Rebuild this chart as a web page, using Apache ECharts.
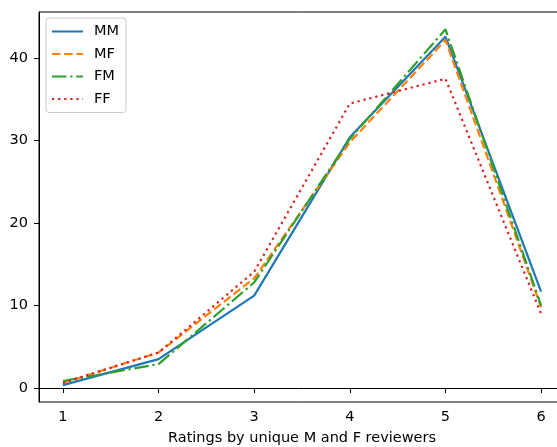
<!DOCTYPE html>
<html>
<head>
<meta charset="utf-8">
<script src="https://cdn.jsdelivr.net/npm/echarts@6/dist/echarts.min.js"></script>
<style>
  html, body { margin: 0; padding: 0; background: #fff; }
  #main { width: 557px; height: 447px; }
</style>
</head>
<body>
<div id="main"></div>
<script>
var ratings = [1, 2, 3, 4, 5, 6];
var mm = [0.35, 3.5, 11.2, 30.4, 42.6, 11.7];
var mf = [0.6, 4.3, 13.3, 29.8, 42.2, 9.8];
var fm = [0.85, 2.9, 12.8, 30.2, 43.5, 10.0];
var ff = [0.6, 4.3, 14.1, 34.5, 37.5, 9.0];
var xTicks = [1, 2, 3, 4, 5, 6];
var yTicks = [0, 10, 20, 30, 40];

function pairs(vals) {
  return ratings.map(function (r, i) { return [r, vals[i]]; });
}

var myChart = echarts.init(document.getElementById('main'));
var font = 'DejaVu Sans';

function line(name, vals, color, type) {
  return {
    name: name,
    type: 'line',
    symbol: 'none',
    data: pairs(vals),
    lineStyle: { color: color, width: 2.2, type: type },
    itemStyle: { color: color },
    emphasis: { disabled: true },
    animation: false
  };
}

var option = {
  backgroundColor: '#fff',
  grid: {
    left: 39, top: 12, width: 526, height: 390,
    outerBoundsMode: 'none',
    show: true, borderColor: '#000', borderWidth: 1
  },
  legend: {
    left: 46, top: 18,
    orient: 'vertical',
    padding: [6, 7, 6, 5],
    itemWidth: 31, itemHeight: 14, itemGap: 7.5,
    itemStyle: { opacity: 0 },
    backgroundColor: 'rgba(255,255,255,0.8)',
    borderColor: '#cccccc', borderWidth: 1, borderRadius: 3,
    textStyle: { fontFamily: font, fontSize: 14.5, color: '#000', padding: [0, 0, 0, 6] },
    data: ['MM', 'MF', 'FM', 'FF']
  },
  xAxis: {
    type: 'value',
    min: 0.75, max: 6.25,
    name: 'Ratings by unique M and F reviewers',
    nameLocation: 'middle',
    nameGap: 29,
    nameTextStyle: { fontFamily: font, fontSize: 14.5, color: '#000' },
    axisLine: { show: true, lineStyle: { color: '#000', width: 1 } },
    axisTick: { show: true, length: 5, lineStyle: { color: '#000' }, customValues: xTicks },
    axisLabel: { fontFamily: font, fontSize: 14.5, color: '#000', margin: 8, customValues: xTicks },
    splitLine: { show: false }
  },
  yAxis: {
    type: 'value',
    min: -1.7, max: 45.6,
    axisLine: { show: true, lineStyle: { color: '#000', width: 1 } },
    axisTick: { show: true, length: 5, lineStyle: { color: '#000' }, customValues: yTicks },
    axisLabel: { fontFamily: font, fontSize: 14.5, color: '#000', margin: 11, customValues: yTicks },
    splitLine: { show: false }
  },
  series: [
    line('MM', mm, '#1f77b4', 'solid'),
    line('MF', mf, '#ff7f0e', [8.5, 3.7]),
    line('FM', fm, '#2ca02c', [14.5, 3.7, 2.3, 3.7]),
    line('FF', ff, '#d62728', [2.3, 3.8])
  ]
};
myChart.setOption(option);
</script>
</body>
</html>
